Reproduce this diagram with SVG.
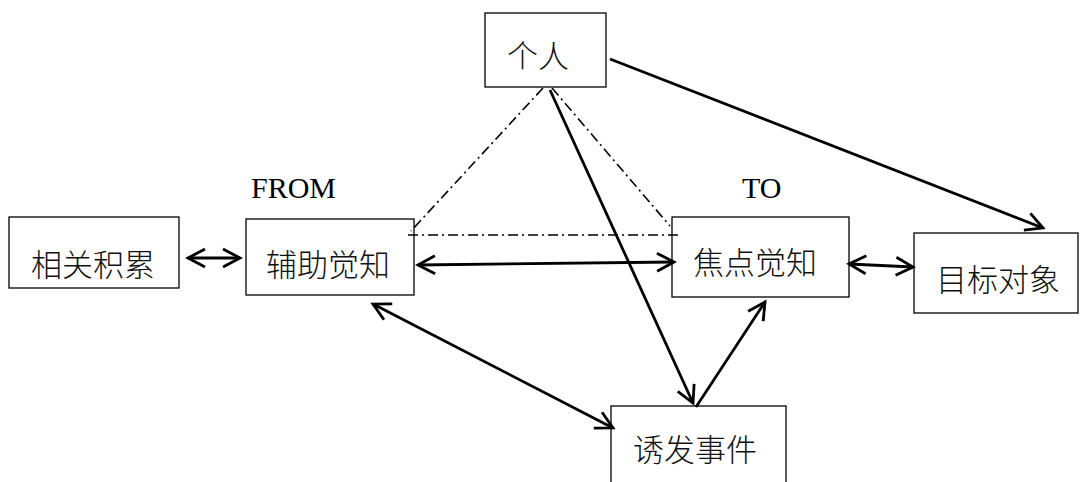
<svg xmlns="http://www.w3.org/2000/svg" width="1080" height="482" viewBox="0 0 1080 482">
<defs>
<marker id="ah" markerUnits="userSpaceOnUse" markerWidth="24" markerHeight="24" viewBox="0 0 24 24" refX="21" refY="12" orient="auto-start-reverse">
<path d="M4,3 L21,12 L4,21" fill="none" stroke="#000" stroke-width="2.8"/>
</marker>
</defs>
<style>
.box{fill:#fff;stroke:#000;stroke-width:1.3}
.zh{font-family:"Noto Sans CJK SC","Noto Sans",sans-serif;font-size:31px;font-weight:300;fill:#111;text-anchor:middle;dominant-baseline:central}
.en{font-family:"Liberation Serif","Times New Roman",serif;font-size:30px;fill:#000}
.arr{fill:none;stroke:#000;stroke-width:2.8}
.dd{fill:none;stroke:#000;stroke-width:1.6;stroke-dasharray:10 4 2 4}
</style>
<rect width="1080" height="482" fill="#fff"/>
<g id="nodes">
<g id="geren"><rect class="box" x="485" y="13" width="121" height="74"/><text class="zh" x="538" y="53">个人</text></g>
<g id="xiangguan"><rect class="box" x="9" y="217" width="170" height="71"/><text class="zh" x="93" y="262">相关积累</text></g>
<g id="fuzhu"><rect class="box" x="246" y="219" width="168" height="76"/><text class="zh" x="328" y="262">辅助觉知</text></g>
<g id="jiaodian"><rect class="box" x="672" y="217" width="177" height="80"/><text class="zh" x="755" y="260">焦点觉知</text></g>
<g id="mubiao"><rect class="box" x="914" y="233" width="164" height="80"/><text class="zh" x="998" y="277">目标对象</text></g>
<g id="youfa"><rect class="box" x="611" y="406" width="175" height="90"/><text class="zh" x="695" y="447">诱发事件</text></g>
</g>
<g id="labels">
<text class="en" x="251" y="198">FROM</text>
<text class="en" x="742" y="198">TO</text>
</g>
<g id="connectors">
<line class="dd" x1="543" y1="88" x2="411" y2="231"/>
<line class="dd" x1="552" y1="88" x2="670" y2="226"/>
<line class="dd" x1="408" y1="235" x2="678" y2="235"/>
<line class="arr" x1="188" y1="258" x2="240" y2="258" marker-start="url(#ah)" marker-end="url(#ah)"/>
<line class="arr" x1="418" y1="265" x2="674" y2="262" marker-start="url(#ah)" marker-end="url(#ah)"/>
<line class="arr" x1="849" y1="264" x2="913" y2="267" marker-start="url(#ah)" marker-end="url(#ah)"/>
<line class="arr" x1="610" y1="59" x2="1043" y2="228" marker-end="url(#ah)"/>
<line class="arr" x1="550" y1="90" x2="693" y2="403" marker-end="url(#ah)"/>
<line class="arr" x1="373" y1="304" x2="613" y2="428" marker-start="url(#ah)" marker-end="url(#ah)"/>
<line class="arr" x1="696" y1="407" x2="765" y2="302" marker-end="url(#ah)"/>
</g>
</svg>
